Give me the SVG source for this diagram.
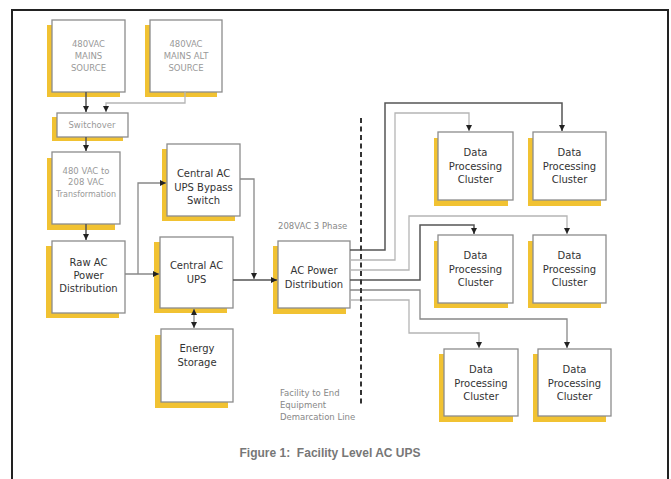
<svg xmlns="http://www.w3.org/2000/svg" width="671" height="479" viewBox="0 0 671 479">
<style>
.sh{fill:#f1c232}
.bx{fill:#fff;stroke:#8c8c8c;stroke-width:1.3}
.t{font-family:"DejaVu Sans",Verdana,sans-serif;font-size:10px;fill:#333;text-anchor:middle}
.ts{font-family:"DejaVu Sans",Verdana,sans-serif;font-size:8.5px;fill:#999;text-anchor:middle}
.lbl{font-family:"DejaVu Sans",Verdana,sans-serif;font-size:8.5px;fill:#888}
.dk{fill:none;stroke:#555;stroke-width:1.5}
.lt{fill:none;stroke:#b5b5b5;stroke-width:1.3}
.md{fill:none;stroke:#888;stroke-width:1.3}
</style>
<defs>
<marker id="ah" markerUnits="userSpaceOnUse" markerWidth="7" markerHeight="7" refX="6" refY="3" orient="auto-start-reverse">
<path d="M0,0 L6,3 L0,6 z" fill="#222"/>
</marker>
</defs>
<rect x="0" y="0" width="671" height="479" fill="#fff"/>
<rect x="12" y="10" width="656" height="490" fill="none" stroke="#222" stroke-width="2"/>

<g id="mains">
<rect class="sh" x="47" y="25" width="73" height="72"/>
<rect class="bx" x="52" y="20" width="73" height="72"/>
<text class="ts" x="88.5" y="47">480VAC</text>
<text class="ts" x="88.5" y="59">MAINS</text>
<text class="ts" x="88.5" y="71">SOURCE</text>
</g>
<g id="mainsalt">
<rect class="sh" x="145" y="25" width="72" height="72"/>
<rect class="bx" x="150" y="20" width="72" height="72"/>
<text class="ts" x="186" y="47">480VAC</text>
<text class="ts" x="186" y="59">MAINS ALT</text>
<text class="ts" x="186" y="71">SOURCE</text>
</g>
<g id="switchover">
<rect class="sh" x="52" y="117" width="71" height="24"/>
<rect class="bx" x="57" y="113" width="71" height="24"/>
<text class="ts" x="92" y="128">Switchover</text>
</g>
<g id="transform">
<rect class="sh" x="47" y="158" width="68" height="72"/>
<rect class="bx" x="52" y="152" width="68" height="72"/>
<text class="ts" x="86" y="174">480 VAC to</text>
<text class="ts" x="86" y="185">208 VAC</text>
<text class="ts" x="86" y="197" style="font-size:8px">Transformation</text>
</g>
<g id="rawac">
<rect class="sh" x="46" y="246" width="73" height="72"/>
<rect class="bx" x="52" y="241" width="73" height="72"/>
<text class="t" x="88.5" y="266">Raw AC</text>
<text class="t" x="88.5" y="279">Power</text>
<text class="t" x="88.5" y="292">Distribution</text>
</g>
<g id="bypass">
<rect class="sh" x="162" y="149" width="73" height="72"/>
<rect class="bx" x="167" y="144" width="73" height="72"/>
<text class="t" x="203.5" y="177">Central AC</text>
<text class="t" x="203.5" y="191">UPS Bypass</text>
<text class="t" x="203.5" y="204">Switch</text>
</g>
<g id="ups">
<rect class="sh" x="154" y="242" width="73" height="71"/>
<rect class="bx" x="160" y="237" width="73" height="71"/>
<text class="t" x="196.5" y="269">Central AC</text>
<text class="t" x="196.5" y="283">UPS</text>
</g>
<g id="storage">
<rect class="sh" x="155" y="335" width="73" height="73"/>
<rect class="bx" x="161" y="329" width="72" height="73"/>
<text class="t" x="197" y="352">Energy</text>
<text class="t" x="197" y="366">Storage</text>
</g>
<g id="acdist">
<rect class="sh" x="273" y="246" width="73" height="68"/>
<rect class="bx" x="278" y="241" width="72" height="67"/>
<text class="t" x="314" y="274">AC Power</text>
<text class="t" x="314" y="288">Distribution</text>
</g>
<text class="lbl" x="278" y="229">208VAC 3 Phase</text>
<g id="dpc1">
<rect class="sh" x="434" y="138" width="74" height="68"/>
<rect class="bx" x="438" y="132" width="75" height="68"/>
<text class="t" x="475.5" y="156">Data</text>
<text class="t" x="475.5" y="170">Processing</text>
<text class="t" x="475.5" y="183">Cluster</text>
</g>
<g id="dpc2">
<rect class="sh" x="528" y="138" width="73" height="68"/>
<rect class="bx" x="533" y="132" width="73" height="68"/>
<text class="t" x="569.5" y="156">Data</text>
<text class="t" x="569.5" y="170">Processing</text>
<text class="t" x="569.5" y="183">Cluster</text>
</g>
<g id="dpc3">
<rect class="sh" x="434" y="241" width="74" height="67"/>
<rect class="bx" x="438" y="235" width="75" height="68"/>
<text class="t" x="475.5" y="259">Data</text>
<text class="t" x="475.5" y="273">Processing</text>
<text class="t" x="475.5" y="286">Cluster</text>
</g>
<g id="dpc4">
<rect class="sh" x="528" y="241" width="73" height="67"/>
<rect class="bx" x="533" y="235" width="73" height="68"/>
<text class="t" x="569.5" y="259">Data</text>
<text class="t" x="569.5" y="273">Processing</text>
<text class="t" x="569.5" y="286">Cluster</text>
</g>
<g id="dpc5">
<rect class="sh" x="439" y="354" width="74" height="68"/>
<rect class="bx" x="444" y="349" width="74" height="67"/>
<text class="t" x="481" y="373">Data</text>
<text class="t" x="481" y="387">Processing</text>
<text class="t" x="481" y="400">Cluster</text>
</g>
<g id="dpc6">
<rect class="sh" x="533" y="354" width="73" height="68"/>
<rect class="bx" x="538" y="349" width="73" height="67"/>
<text class="t" x="574.5" y="373">Data</text>
<text class="t" x="574.5" y="387">Processing</text>
<text class="t" x="574.5" y="400">Cluster</text>
</g>

<g id="connectors">
<path class="dk" d="M86,92 V112" marker-end="url(#ah)"/>
<path class="lt" d="M185,92 V103 H106 V112" marker-end="url(#ah)"/>
<path class="dk" d="M86,137 V151" marker-end="url(#ah)"/>
<path class="dk" d="M86,224 V240" marker-end="url(#ah)"/>
<path class="md" d="M125,274 H159" marker-end="url(#ah)"/>
<path class="md" d="M138,274 V183 H166" marker-end="url(#ah)"/>
<path class="md" d="M194,309 V328" marker-start="url(#ah)" marker-end="url(#ah)"/>
<path class="dk" d="M233,280 H277" marker-end="url(#ah)"/>
<path class="md" d="M240,179 H254 V279" marker-end="url(#ah)"/>
<path class="dk" d="M350,250 H385 V103 H562 V131" marker-end="url(#ah)"/>
<path class="lt" d="M350,260 H395 V113 H469 V131" marker-end="url(#ah)"/>
<path class="lt" d="M350,270 H409 V216 H567 V234" marker-end="url(#ah)"/>
<path class="dk" d="M350,280 H420 V225 H474 V234" marker-end="url(#ah)"/>
<path class="md" d="M350,290 H420 V319 H567 V348" marker-end="url(#ah)"/>
<path class="lt" d="M350,300 H409 V333 H479 V348" marker-end="url(#ah)"/>
<path d="M361,118 V406" stroke="#333" stroke-width="2" stroke-dasharray="5,3.5" fill="none"/>
</g>
<text class="lbl" x="280" y="396">Facility to End</text>
<text class="lbl" x="280" y="408">Equipment</text>
<text class="lbl" x="280" y="420">Demarcation Line</text>
<text x="330" y="457" font-family="Liberation Sans,Arial,sans-serif" font-size="12" font-weight="bold" fill="#777" text-anchor="middle" style="white-space:pre">Figure 1:  Facility Level AC UPS</text>
</svg>
